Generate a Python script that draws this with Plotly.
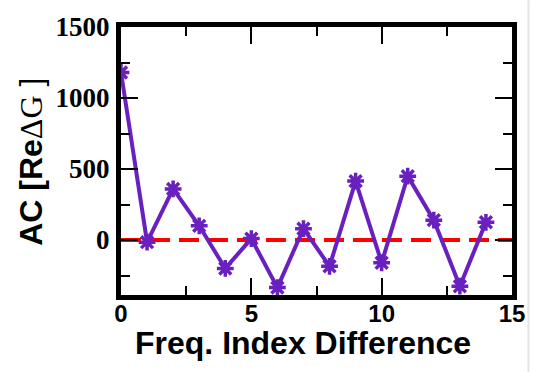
import plotly.graph_objects as go

# Autocorrelation of Re(ΔG) versus frequency-index lag
lag = [0, 1, 2, 3, 4, 5, 6, 7, 8, 9, 10, 11, 12, 13, 14]
ac_values = [1180, -15, 360, 100, -200, 10, -335, 80, -185, 415, -160, 450, 140, -325, 125]
zero_x = [0, 15]
zero_y = [0, 0]
x_ticks = [0, 5, 10, 15]
y_ticks = [0, 500, 1000, 1500]

purple = "#6A20BF"

fig = go.Figure()

# zero reference line
fig.add_trace(go.Scatter(
    x=zero_x, y=zero_y, mode="lines",
    line=dict(color="#FF0000", width=4, dash="20px,9px"),
    hoverinfo="skip", showlegend=False,
))

fig.add_trace(go.Scatter(
    x=lag, y=ac_values, mode="lines+markers",
    line=dict(color=purple, width=4),
    marker=dict(symbol="asterisk-open", size=14, color=purple,
                line=dict(color=purple, width=3.5)),
    showlegend=False,
))

axis_common = dict(
    showline=True, linecolor="black", linewidth=5, mirror="allticks",
    ticks="inside", ticklen=17, tickwidth=2, tickcolor="black",
    showgrid=False, zeroline=False,
)

fig.update_xaxes(
    range=[0, 15], tickvals=x_ticks,
    ticktext=[f"<b>{t}</b>" for t in x_ticks],
    minor=dict(tickvals=[2.5, 7.5, 12.5], ticklen=9, tickwidth=2,
               tickcolor="black", ticks="inside"),
    tickfont=dict(family="Liberation Sans", size=24, color="black"),
    ticklabelstandoff=-7,
    **axis_common,
)
fig.update_yaxes(
    range=[-387, 1500], tickvals=y_ticks,
    ticktext=[f"<b>{t}</b>" for t in y_ticks],
    minor=dict(tickvals=[-250, 250, 750, 1250], ticklen=9, tickwidth=2,
               tickcolor="black", ticks="inside"),
    tickfont=dict(family="Liberation Serif", size=27, color="black"),
    ticklabelstandoff=1,
    **axis_common,
)

fig.update_layout(
    width=537, height=372,
    margin=dict(l=121, r=22, t=17, b=77),
    paper_bgcolor="white", plot_bgcolor="white",
    annotations=[
        dict(text="<b>Freq. Index Difference</b>", xref="paper", yref="paper",
             x=0.465, y=-0.18, xanchor="center", yanchor="middle", showarrow=False,
             font=dict(family="Liberation Sans", size=32, color="black")),
        dict(text="<b>AC [Re</b><span style='font-family:Liberation Serif'>ΔG</span> ]",
             xref="paper", yref="paper", x=-0.23, y=0.497,
             xanchor="center", yanchor="middle", textangle=-90, showarrow=False,
             font=dict(family="Liberation Sans", size=32, color="black")),
    ],
    shapes=[
        dict(type="line", xref="paper", yref="paper", x0=1.042, x1=1.042,
             y0=-0.3, y1=1.1, line=dict(color="#E4E4E4", width=2)),
    ],
)

fig.write_html("out.html")
